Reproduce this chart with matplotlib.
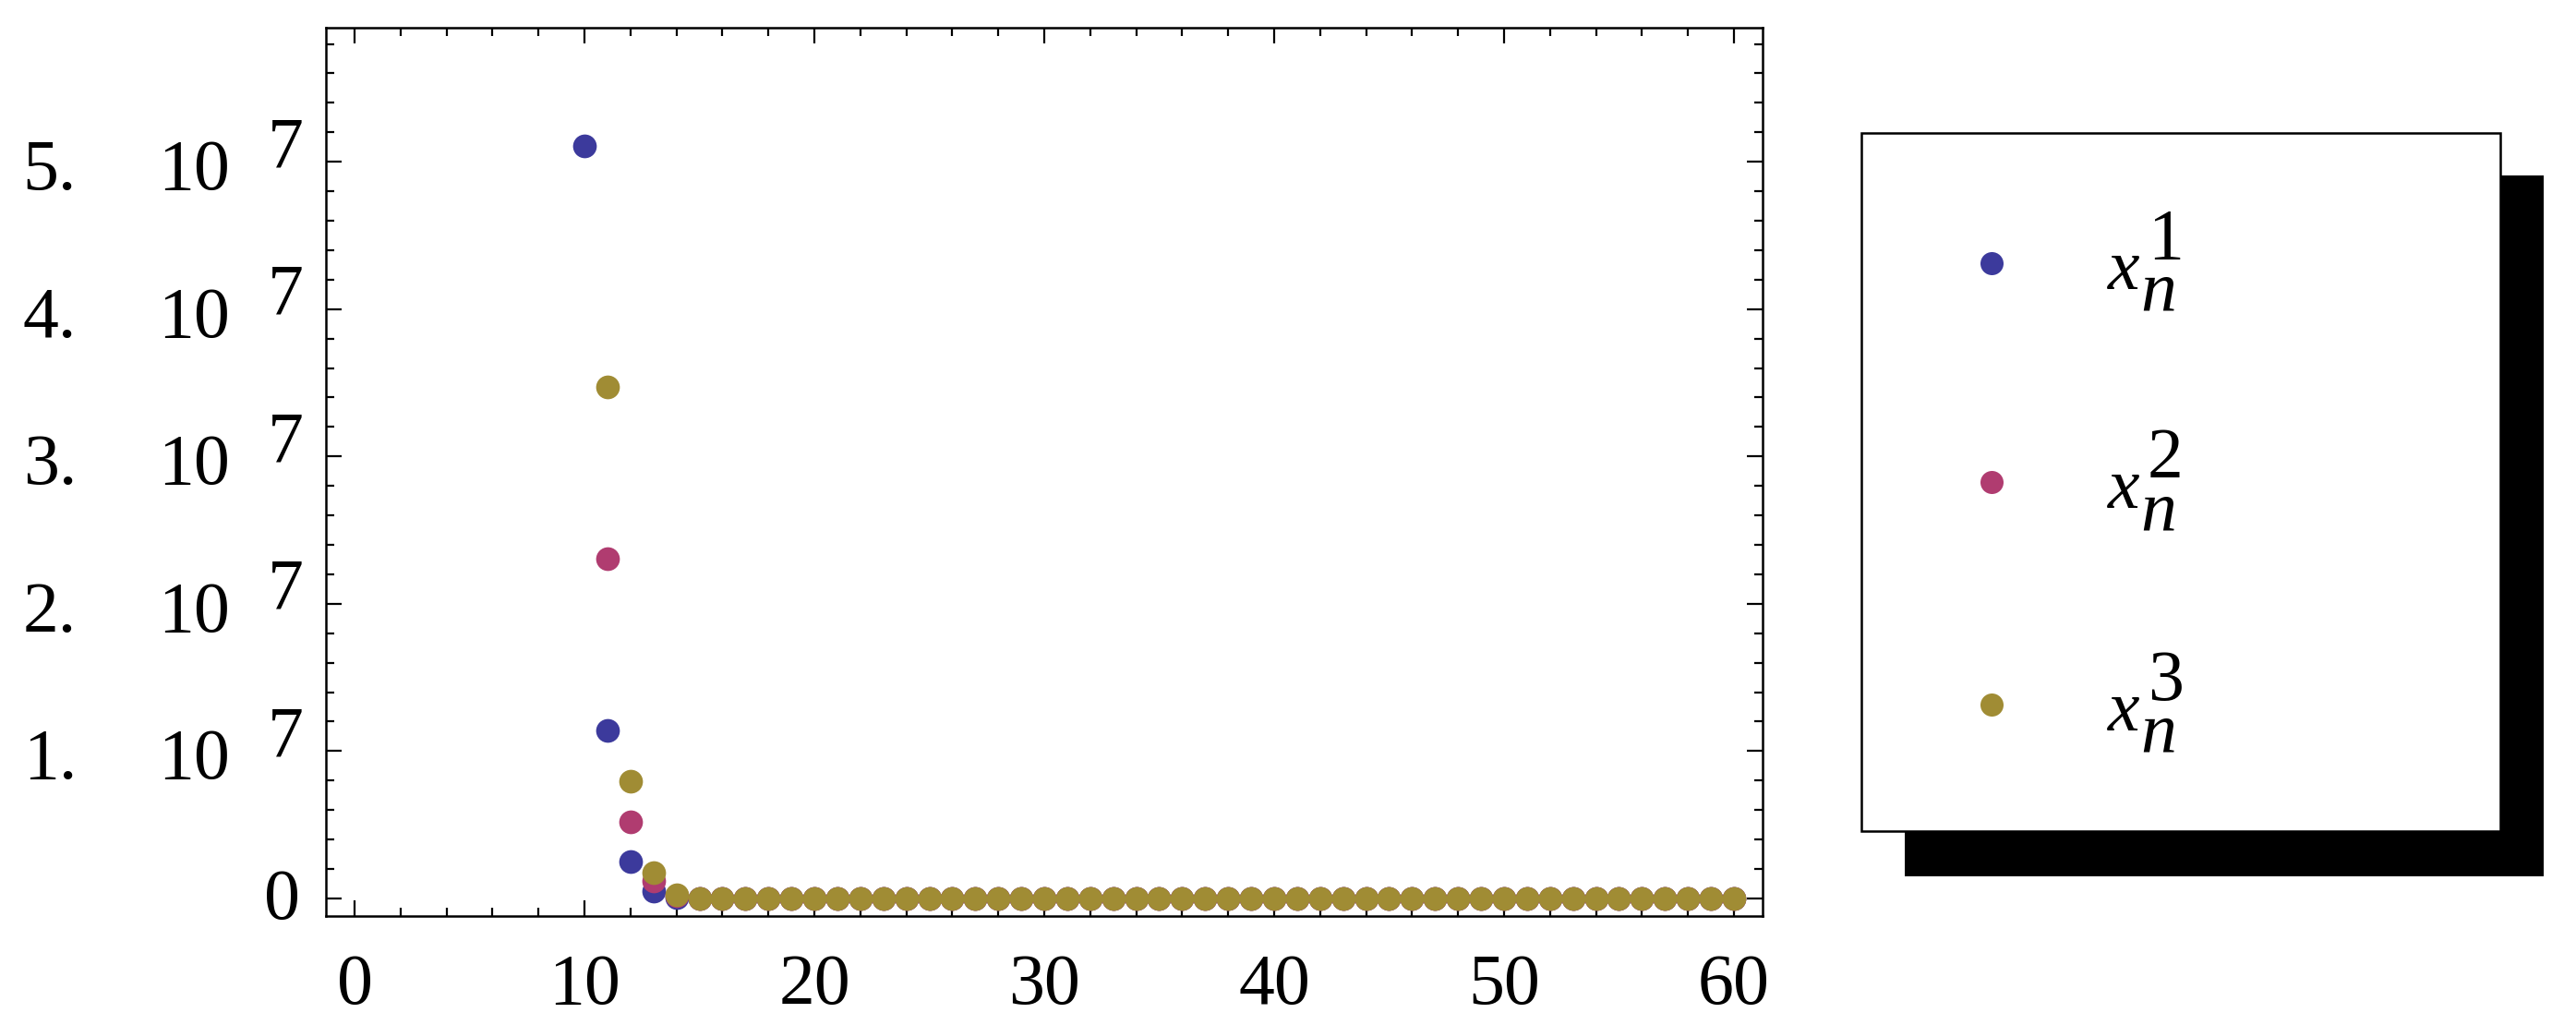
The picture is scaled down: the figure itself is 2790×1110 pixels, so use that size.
import numpy as np
import matplotlib
matplotlib.use("Agg")
import matplotlib.pyplot as plt
import matplotlib.transforms as mtransforms
from matplotlib.patches import Rectangle
from matplotlib.lines import Line2D

# iteration index
n = list(range(10, 61))

# x_n^1, x_n^2, x_n^3 (nan = outside the plotted range)
x1 = [5.107e7, 1.141e7, 2.51e6, 5.0e5, 5.0e4,
      0, 0, 0, 0, 0, 0, 0, 0, 0, 0, 0, 0, 0, 0, 0, 0, 0, 0, 0, 0, 0,
      0, 0, 0, 0, 0, 0, 0, 0, 0, 0, 0, 0, 0, 0, 0, 0, 0, 0, 0, 0, 0, 0, 0, 0, 0]
x2 = [np.nan, 2.303e7, 5.20e6, 1.19e6, 2.0e5,
      0, 0, 0, 0, 0, 0, 0, 0, 0, 0, 0, 0, 0, 0, 0, 0, 0, 0, 0, 0, 0,
      0, 0, 0, 0, 0, 0, 0, 0, 0, 0, 0, 0, 0, 0, 0, 0, 0, 0, 0, 0, 0, 0, 0, 0, 0]
x3 = [np.nan, 3.471e7, 7.96e6, 1.76e6, 2.5e5,
      0, 0, 0, 0, 0, 0, 0, 0, 0, 0, 0, 0, 0, 0, 0, 0, 0, 0, 0, 0, 0,
      0, 0, 0, 0, 0, 0, 0, 0, 0, 0, 0, 0, 0, 0, 0, 0, 0, 0, 0, 0, 0, 0, 0, 0, 0]

series = [x1, x2, x3]
sup_labels = ['1', '2', '3']
colors = ['#3c3a9c', '#b03c70', '#a08c34']

y_major = [0, 1e7, 2e7, 3e7, 4e7, 5e7]
y_mantissa = ['1.', '2.', '3.', '4.', '5.']
x_major = [0, 10, 20, 30, 40, 50, 60]

W, H = 2790, 1110
serif = 'Liberation Serif'
fs = 56

fig = plt.figure(figsize=(W / 100, H / 100), dpi=100)


def px(x, y):
    # pixel position from the top-left corner -> figure fraction
    return x / W, 1 - y / H


ax = fig.add_axes([353 / W, 1 - 992 / H, (1909 - 353) / W, (992 - 30) / H])
for vals, c in zip(series, colors):
    ax.plot(n, vals, 'o', color=c, markersize=18.5, markeredgewidth=0, zorder=3)

ax.set_xlim(-1.25, 61.25)
ax.set_ylim(-1.2e6, 5.91e7)

ax.set_xticks(x_major)
ax.set_xticks(np.arange(0, 61, 2), minor=True)
ax.set_yticks(y_major)
ax.set_yticks(np.arange(0, 5.9e7, 2e6), minor=True)
ax.set_yticklabels([])

for s in ax.spines.values():
    s.set_linewidth(1.8)
ax.tick_params(which='both', direction='in', top=True, right=True, width=1.6, color='black')
ax.tick_params(which='major', length=12)
ax.tick_params(which='minor', length=6.8)
ax.tick_params(axis='x', which='major', pad=29, labelsize=fs)
for lab in ax.get_xticklabels():
    lab.set_fontfamily(serif)

# y tick labels written the way the original shows them: "5.  10 7"
ytrans = ax.get_yaxis_transform()
base = mtransforms.offset_copy(ytrans, fig=fig, y=-30, units='dots')
raised = mtransforms.offset_copy(ytrans, fig=fig, y=-5, units='dots')
for v, m in zip(y_major[1:], y_mantissa):
    ax.text(-0.1735, v, m, transform=base, ha='right', va='baseline',
            fontsize=fs, family=serif, clip_on=False)
    ax.text(-0.1170, v, '10', transform=base, ha='left', va='baseline',
            fontsize=fs, family=serif, clip_on=False)
    ax.text(-0.0405, v, '7', transform=raised, ha='left', va='baseline',
            fontsize=fs, family=serif, clip_on=False)
zero = mtransforms.offset_copy(ytrans, fig=fig, y=-22, units='dots')
ax.text(-0.0180, 0, '0', transform=zero, ha='right', va='baseline',
        fontsize=fs, family=serif, clip_on=False)

# legend box with a solid black drop shadow
sx, sy = px(2063, 949)
fig.patches.append(Rectangle((sx, sy), 692 / W, 759 / H, transform=fig.transFigure,
                             facecolor='black', edgecolor='none', zorder=1))
bx, by = px(2016, 900)
fig.patches.append(Rectangle((bx, by), 692 / W, 756 / H, transform=fig.transFigure,
                             facecolor='white', edgecolor='black', linewidth=1.8, zorder=2))

entry_y = [285, 522, 763]
for ey, c, sup in zip(entry_y, colors, sup_labels):
    mx, my = px(2157, ey)
    fig.add_artist(Line2D([mx], [my], marker='o', color=c, markersize=18,
                          markeredgewidth=0, transform=fig.transFigure, zorder=3))
    tx, ty = px(2283, ey + 28)
    fig.text(tx, ty, 'x', fontsize=fs, family=serif, style='italic', va='baseline', zorder=3)
    tx, ty = px(2318, ey + 52)
    fig.text(tx, ty, 'n', fontsize=fs, family=serif, style='italic', va='baseline', zorder=3)
    tx, ty = px(2326, ey - 5)
    fig.text(tx, ty, sup, fontsize=fs, family=serif, va='baseline', zorder=3)

fig.savefig('out.png', dpi=100, facecolor='white')
